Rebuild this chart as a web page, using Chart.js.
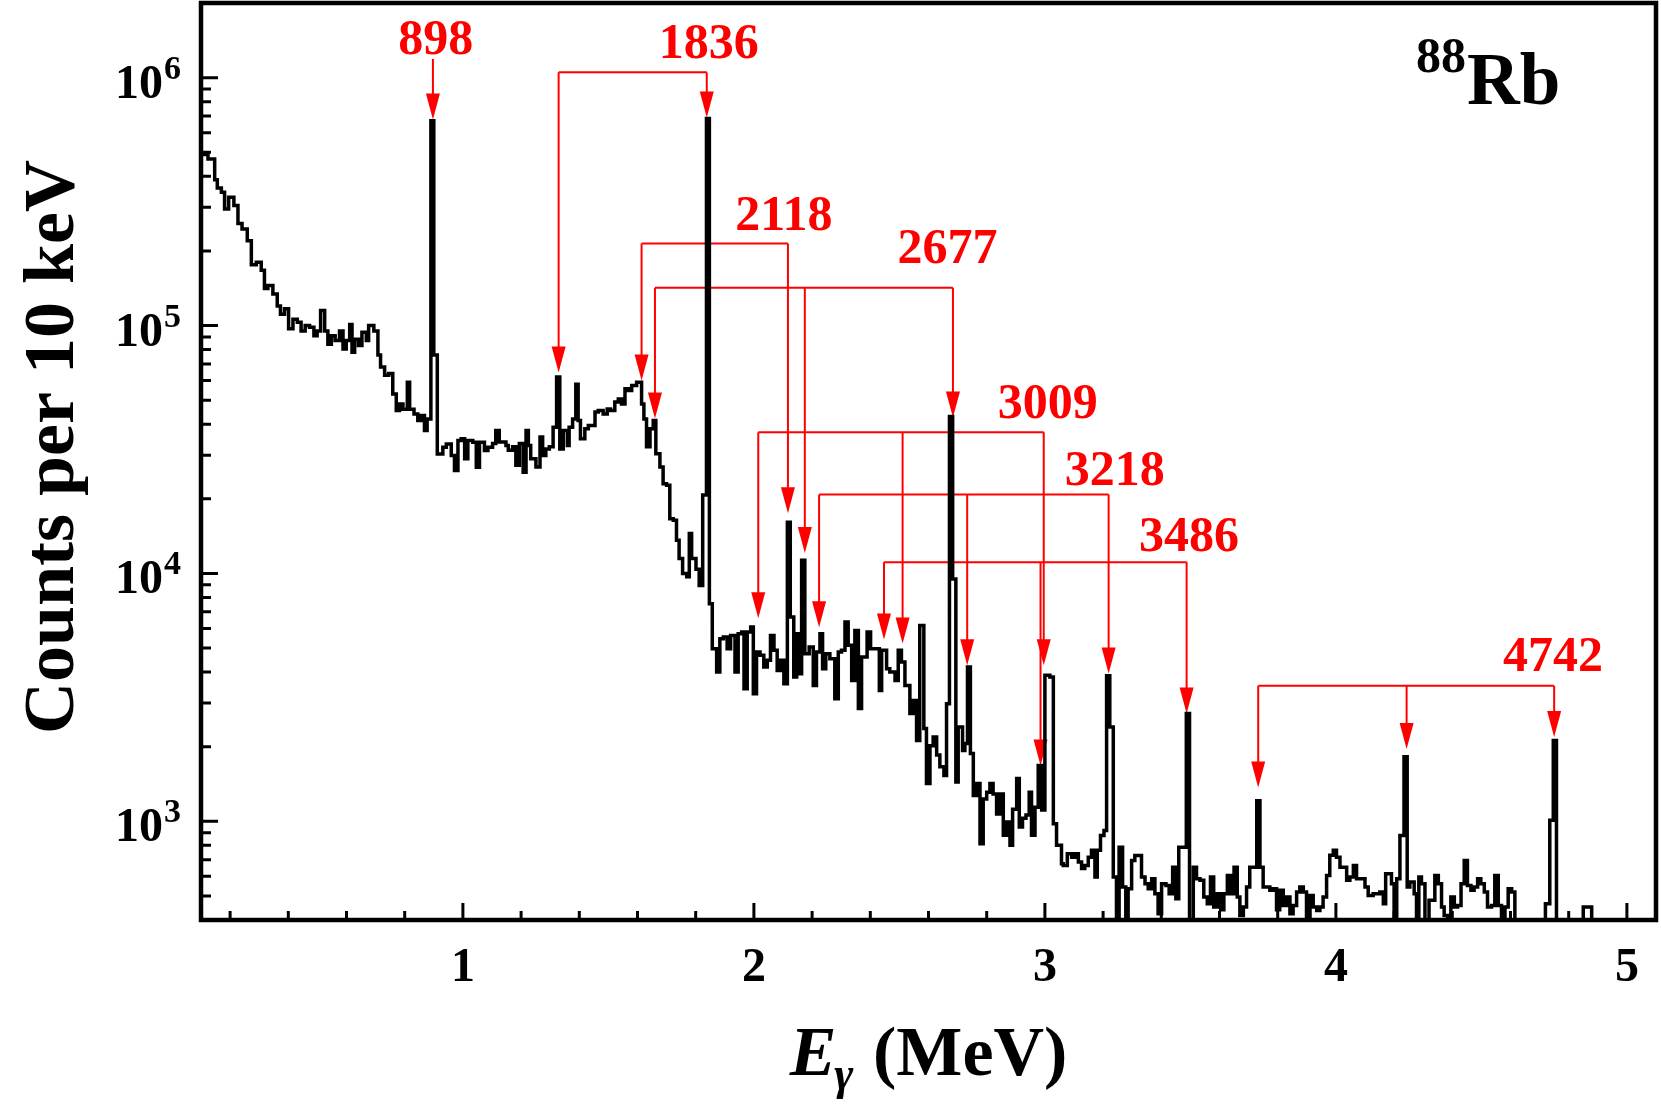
<!DOCTYPE html>
<html><head><meta charset="utf-8">
<script src="https://cdn.jsdelivr.net/npm/chart.js@4.4.1/dist/chart.umd.min.js"></script>
<style>html,body{margin:0;padding:0;background:#fff;}canvas{display:block;}</style>
</head><body>
<canvas id="c" width="1661" height="1108"></canvas>
<script>
// ---- spectrum (bin start energy in MeV, counts per 10 keV) ----
const energies = [
0.100,0.124,0.147,0.156,0.170,0.181,0.195,0.213,0.227,0.241,0.259,0.273,0.290,0.307,0.318,0.330,0.347,0.362,0.373,0.387,
0.401,0.416,0.431,0.444,0.458,0.473,0.488,0.499,0.511,0.525,0.536,0.548,0.561,0.576,0.588,0.599,0.611,0.619,0.628,0.641,
0.653,0.668,0.676,0.694,0.708,0.717,0.731,0.745,0.759,0.771,0.782,0.794,0.809,0.817,0.832,0.845,0.857,0.868,0.877,0.890,
0.900,0.912,0.931,0.943,0.960,0.971,0.983,0.994,1.006,1.017,1.034,1.046,1.057,1.074,1.086,1.102,1.113,1.125,1.148,1.156,
1.171,1.182,1.194,1.207,1.217,1.225,1.233,1.251,1.265,1.274,1.285,1.297,1.310,1.322,1.333,1.345,1.359,1.365,1.377,1.388,
1.396,1.404,1.419,1.431,1.454,1.465,1.482,1.496,1.507,1.522,1.534,1.545,1.557,1.568,1.580,1.597,1.614,1.622,1.631,1.643,
1.654,1.663,1.677,1.688,1.700,1.711,1.723,1.734,1.743,1.755,1.769,1.778,1.786,1.801,1.812,1.824,1.837,1.847,1.857,1.872,
1.883,1.895,1.908,1.920,1.935,1.946,1.958,1.966,1.977,1.989,1.998,2.009,2.021,2.034,2.046,2.057,2.069,2.080,2.092,2.103,
2.115,2.125,2.137,2.147,2.156,2.164,2.175,2.190,2.204,2.215,2.227,2.236,2.247,2.261,2.278,2.290,2.301,2.313,2.324,2.336,
2.347,2.359,2.370,2.389,2.401,2.416,2.431,2.439,2.456,2.467,2.485,2.496,2.507,2.519,2.536,2.548,2.559,2.570,2.584,2.593,
2.605,2.616,2.628,2.639,2.653,2.662,2.672,2.683,2.694,2.702,2.717,2.725,2.734,2.744,2.754,2.765,2.777,2.788,2.800,2.811,
2.822,2.834,2.845,2.857,2.868,2.880,2.889,2.903,2.912,2.923,2.935,2.946,2.954,2.966,2.977,2.989,3.000,3.017,3.029,3.040,
3.057,3.063,3.077,3.092,3.103,3.115,3.126,3.137,3.149,3.160,3.172,3.180,3.191,3.203,3.212,3.223,3.235,3.246,3.255,3.267,
3.278,3.286,3.298,3.309,3.321,3.332,3.344,3.355,3.367,3.378,3.389,3.401,3.416,3.427,3.439,3.450,3.460,3.470,3.486,3.497,
3.510,3.521,3.533,3.546,3.558,3.569,3.580,3.592,3.604,3.615,3.627,3.638,3.650,3.661,3.670,3.682,3.693,3.704,3.716,3.728,
3.739,3.750,3.762,3.773,3.785,3.796,3.807,3.819,3.830,3.842,3.853,3.865,3.876,3.888,3.899,3.911,3.922,3.934,3.945,3.956,
3.968,3.979,3.991,4.002,4.014,4.025,4.037,4.048,4.060,4.071,4.088,4.100,4.111,4.128,4.151,4.163,4.171,4.180,4.191,4.200,
4.209,4.220,4.234,4.245,4.254,4.269,4.277,4.285,4.294,4.306,4.320,4.329,4.340,4.352,4.363,4.372,4.384,4.395,4.407,4.418,
4.430,4.441,4.452,4.464,4.475,4.487,4.498,4.510,4.521,4.535,4.546,4.558,4.569,4.581,4.592,4.604,4.615,4.720,4.735,4.747,
4.758,4.850,4.879,5.100
];
const counts = [
490000,470000,387000,359000,345000,295000,329000,305000,258000,245000,220000,176000,180000,167000,141000,145000,134000,120000,111000,117000,
97000,106000,103000,95000,100000,98500,91000,95000,115000,95000,84000,91000,87000,95000,80500,87000,101000,78000,88000,83000,
94000,87000,100000,95000,76000,68000,63000,64000,53000,45400,48300,46000,59000,46000,44000,41400,43400,37700,42000,670000,
76000,30300,32300,33300,29900,26000,34400,34900,29000,34400,33800,26800,33800,31300,32300,33400,37700,33900,32800,31400,
32400,27300,33400,25600,37700,32800,29000,26900,35500,29900,31800,32400,38900,62000,31800,37700,32800,38900,42000,58000,
41400,34900,38300,39500,44800,45400,44000,46100,45400,49100,50600,48300,55600,54700,57300,59100,48300,42000,32400,38300,
41400,30400,26900,23000,22700,16600,16400,13600,11500,10000,9700,14500,11500,10400,8950,20700,684000,7550,4970,4000,
5450,5540,4970,5620,4000,5710,5800,3430,5800,6080,3270,4820,4680,4190,4460,5620,4900,4060,4460,3590,
16100,6670,3820,5710,3940,11300,4740,5050,3530,4820,5710,4130,4740,4530,3120,4820,4900,6370,5130,3700,
5890,2850,4600,5800,4970,4970,3370,4900,4130,4000,3700,4900,4390,3530,2720,3070,2120,6170,2370,1420,
2020,2190,1850,1660,1530,2980,43000,9500,1440,2400,1930,2060,4190,1880,1270,1420,813,1230,1310,1420,
1290,1070,1290,879,994,800,1120,1490,949,1030,1060,1310,879,1140,1680,1110,3880,3820,979,800,
675,664,740,717,740,685,645,664,717,764,596,764,877,918,3870,2400,596,300,787,543,
300,535,695,728,728,596,560,535,587,510,424,560,551,510,653,487,787,787,2720,300,
653,587,578,495,465,596,451,510,440,510,605,510,653,495,417,451,543,653,653,1210,
653,543,543,527,535,440,527,458,495,424,458,519,543,519,300,502,451,437,451,495,
605,730,764,717,653,653,578,596,664,587,587,543,502,510,519,465,615,615,560,300,
587,877,1820,543,569,510,300,596,560,300,480,480,605,560,451,417,300,495,451,458,
560,695,551,527,543,587,560,519,451,458,605,458,300,451,535,519,300,465,1010,2120,
300,451,300,300
];

// ---- axes ----
const xRange = [0.1, 5.1];
const yRange = [400, 2000000];
const xMajorTicks = [1, 2, 3, 4, 5];
const xMinorTicks = [0.2,0.4,0.6,0.8,1.2,1.4,1.6,1.8,2.2,2.4,2.6,2.8,3.2,3.4,3.6,3.8,4.2,4.4,4.6,4.8];
const yMajorTicks = [1000, 10000, 100000, 1000000];
const yTickExponents = ['3', '4', '5', '6'];
const yMinorTicks = [500,600,700,800,900,2000,3000,4000,5000,6000,7000,8000,9000,
  20000,30000,40000,50000,60000,70000,80000,90000,200000,300000,400000,500000,600000,700000,800000,900000];

// ---- transition annotations ----
const lineLabels = ['898','1836','2118','2677','3009','3218','3486','4742'];
const labelX = [0.907, 1.845, 2.103, 2.665, 3.010, 3.240, 3.495, 4.746];
const labelY = [1250000, 1200000, 242000, 178000, 42200, 22700, 12300, 4030];
const bracketY = [1190000, 1050000, 214000, 142000, 37100, 20800, 11100, 3520];
const arrowX = [[0.897],[1.329,1.838],[1.614,2.117],[1.660,2.175,2.684],[2.015,2.511,2.996],[2.224,2.733,3.219],[2.447,2.985,3.487],[3.733,4.243,4.750]];
const arrowTipY = [[678000],[64600,690000],[60000,17500],[42200,12100,42600],[6600,5220,4260],[6060,4260,3950],[5420,1680,2720],[1370,1960,2190]];

const SERIF = '"Liberation Serif", "Times New Roman", serif';

const decor = {
  id: 'decor',
  beforeDatasetsDraw(chart) {
    const ctx = chart.ctx, xs = chart.scales.x, ys = chart.scales.y;
    ctx.save();
    ctx.strokeStyle = '#ff0000'; ctx.fillStyle = '#ff0000'; ctx.lineWidth = 2;
    const headL = 26, headW = 7;
    lineLabels.forEach((lab, g) => {
      const yb = ys.getPixelForValue(bracketY[g]);
      const px = arrowX[g].map(v => xs.getPixelForValue(v));
      if (px.length > 1) {
        ctx.beginPath();
        ctx.moveTo(Math.min(...px), yb); ctx.lineTo(Math.max(...px), yb); ctx.stroke();
      }
      px.forEach((x, i) => {
        const yt = ys.getPixelForValue(arrowTipY[g][i]);
        ctx.beginPath(); ctx.moveTo(x, yb); ctx.lineTo(x, yt - headL + 2); ctx.stroke();
        ctx.beginPath(); ctx.moveTo(x - headW, yt - headL); ctx.lineTo(x + headW, yt - headL); ctx.lineTo(x, yt); ctx.closePath(); ctx.fill();
      });
      ctx.font = 'bold 50px ' + SERIF; ctx.textAlign = 'center'; ctx.textBaseline = 'alphabetic';
      ctx.fillText(lab, xs.getPixelForValue(labelX[g]), ys.getPixelForValue(labelY[g]));
    });
    ctx.restore();
  },
  afterDraw(chart) {
    const ctx = chart.ctx, xs = chart.scales.x, ys = chart.scales.y, a = chart.chartArea;
    ctx.save();
    ctx.strokeStyle = '#000'; ctx.fillStyle = '#000';
    // ticks (inward)
    ctx.lineWidth = 3;
    ctx.beginPath();
    xMajorTicks.forEach(v => { const x = xs.getPixelForValue(v); ctx.moveTo(x, a.bottom); ctx.lineTo(x, a.bottom - 17); });
    xMinorTicks.forEach(v => { const x = xs.getPixelForValue(v); ctx.moveTo(x, a.bottom); ctx.lineTo(x, a.bottom - 9); });
    yMajorTicks.forEach(v => { const y = ys.getPixelForValue(v); ctx.moveTo(a.left, y); ctx.lineTo(a.left + 17, y); });
    yMinorTicks.forEach(v => { const y = ys.getPixelForValue(v); ctx.moveTo(a.left, y); ctx.lineTo(a.left + 10, y); });
    ctx.stroke();
    // frame
    ctx.lineWidth = 4.5;
    ctx.strokeRect(a.left, a.top, a.right - a.left, a.bottom - a.top);
    // x tick labels
    ctx.font = 'bold 48px ' + SERIF; ctx.textAlign = 'center'; ctx.textBaseline = 'alphabetic';
    xMajorTicks.forEach(v => ctx.fillText(String(v), xs.getPixelForValue(v), 981));
    // y tick labels 10^n
    yMajorTicks.forEach((v, i) => {
      const y = ys.getPixelForValue(v);
      ctx.font = 'bold 48px ' + SERIF; ctx.textAlign = 'right';
      ctx.fillText('10', 163, y + 20);
      ctx.font = 'bold 34px ' + SERIF; ctx.textAlign = 'left';
      ctx.fillText(yTickExponents[i], 164, y + 1);
    });
    // y title
    ctx.save();
    ctx.translate(73, 447); ctx.rotate(-Math.PI / 2);
    ctx.font = 'bold 72px ' + SERIF; ctx.textAlign = 'center';
    ctx.fillText('Counts per 10 keV', 0, 0);
    ctx.restore();
    // x title: E_gamma (MeV)
    const fE = 'italic bold 70px ' + SERIF, fG = 'italic bold 46px ' + SERIF, fR = 'bold 70px ' + SERIF;
    ctx.textAlign = 'left';
    ctx.font = fE; const wE = ctx.measureText('E').width;
    ctx.font = fG; const wG = ctx.measureText('γ').width;
    ctx.font = fR; const wR = ctx.measureText(' (MeV)').width;
    let sx = (a.left + a.right) / 2 - (wE + wG + wR) / 2;
    const by = 1075;
    ctx.font = fE; ctx.fillText('E', sx, by); sx += wE;
    ctx.font = fG; ctx.fillText('γ', sx - 2, by + 14); sx += wG;
    ctx.font = fR; ctx.fillText(' (MeV)', sx, by);
    // nuclide label
    ctx.font = 'bold 50px ' + SERIF; ctx.fillText('88', 1416, 72);
    ctx.font = 'bold 73px ' + SERIF; ctx.fillText('Rb', 1467, 104);
    ctx.restore();
  }
};

new Chart(document.getElementById('c').getContext('2d'), {
  type: 'line',
  data: {
    datasets: [{
      data: energies.map((e, i) => ({ x: e, y: counts[i] })),
      stepped: 'before',
      borderColor: '#000',
      borderWidth: 3.5,
      borderJoinStyle: 'miter',
      pointRadius: 0,
      fill: false,
      tension: 0
    }]
  },
  options: {
    responsive: false,
    animation: false,
    devicePixelRatio: 1,
    layout: { padding: { left: 201, top: 3, right: 5, bottom: 188 } },
    plugins: { legend: { display: false }, tooltip: { enabled: false } },
    scales: {
      x: { type: 'linear', min: xRange[0], max: xRange[1], display: false },
      y: { type: 'logarithmic', min: yRange[0], max: yRange[1], display: false }
    }
  },
  plugins: [decor]
});
</script>
</body></html>
